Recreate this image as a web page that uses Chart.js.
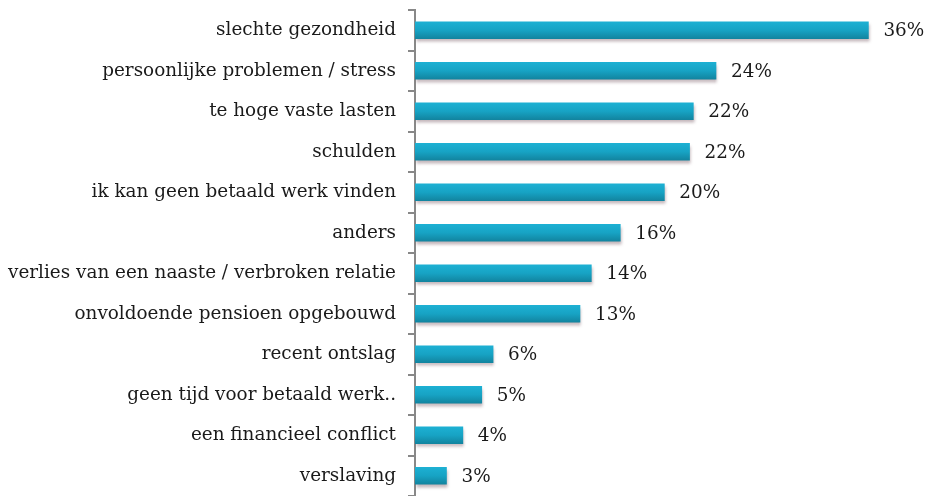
<!DOCTYPE html>
<html>
<head>
<meta charset="utf-8">
<script src="https://cdn.jsdelivr.net/npm/chart.js@4"></script>
<style>
html,body{margin:0;padding:0;background:#fff;}
#wrap{width:925px;height:496px;position:relative;}
</style>
</head>
<body>
<div id="wrap"><canvas id="c" width="925" height="496"></canvas></div>
<script>
const categories = [
  "slechte gezondheid",
  "persoonlijke problemen / stress",
  "te hoge vaste lasten",
  "schulden",
  "ik kan geen betaald werk vinden",
  "anders",
  "verlies van een naaste / verbroken relatie",
  "onvoldoende pensioen opgebouwd",
  "recent ontslag",
  "geen tijd voor betaald werk..",
  "een financieel conflict",
  "verslaving"
];
const values = [36.0, 23.9, 22.1, 21.8, 19.8, 16.3, 14.0, 13.1, 6.2, 5.3, 3.8, 2.5];
const valueLabels = ["36%", "24%", "22%", "22%", "20%", "16%", "14%", "13%", "6%", "5%", "4%", "3%"];

const FONT = "'DejaVu Serif', 'Liberation Serif', serif";

const barStyle = {
  id: 'barStyle',
  beforeDatasetsDraw(chart) {
    const ctx = chart.ctx;
    const meta = chart.getDatasetMeta(0);
    meta.data.forEach(el => {
      const top = el.y - el.height / 2, bot = el.y + el.height / 2;
      const g = ctx.createLinearGradient(0, top, 0, bot);
      g.addColorStop(0, '#1db0d3');
      g.addColorStop(0.5, '#17a3c4');
      g.addColorStop(1, '#12849f');
      el.options = Object.assign({}, el.options, {backgroundColor: g});
    });
    ctx.save();
    ctx.shadowColor = 'rgba(120,90,100,0.45)';
    ctx.shadowOffsetY = 3;
    ctx.shadowOffsetX = 1;
    ctx.shadowBlur = 3;
  },
  afterDatasetsDraw(chart) {
    const ctx = chart.ctx;
    ctx.restore();
    const meta = chart.getDatasetMeta(0);
    ctx.save();
    ctx.font = "18.4px " + FONT;
    ctx.fillStyle = '#1a1a1a';
    ctx.textAlign = 'left';
    ctx.textBaseline = 'middle';
    meta.data.forEach((el, i) => {
      ctx.fillText(valueLabels[i], el.x + 15, el.y + 1);
    });
    ctx.restore();
  }
};

new Chart(document.getElementById('c'), {
  type: 'bar',
  data: {
    labels: categories,
    datasets: [{
      data: values,
      backgroundColor: '#17a3c4',
      barThickness: 17,
      borderWidth: 0
    }]
  },
  options: {
    indexAxis: 'y',
    responsive: false,
    animation: false,
    devicePixelRatio: 1,
    layout: {padding: {top: 10, right: 10, bottom: 0, left: 0}},
    plugins: {legend: {display: false}, tooltip: {enabled: false}},
    scales: {
      x: {
        display: false,
        min: 0,
        max: 39.7
      },
      y: {
        afterFit(scale) { scale.width = 415; scale.paddingTop = 0; scale.paddingBottom = 0; },
        border: {display: true, color: '#888888', width: 2},
        grid: {
          offset: true,
          drawOnChartArea: false,
          drawTicks: true,
          tickLength: 7,
          color: '#888888',
          lineWidth: 2
        },
        ticks: {
          color: '#1a1a1a',
          font: {family: FONT, size: 18.4},
          padding: 12
        }
      }
    }
  },
  plugins: [barStyle]
});
</script>
</body>
</html>
